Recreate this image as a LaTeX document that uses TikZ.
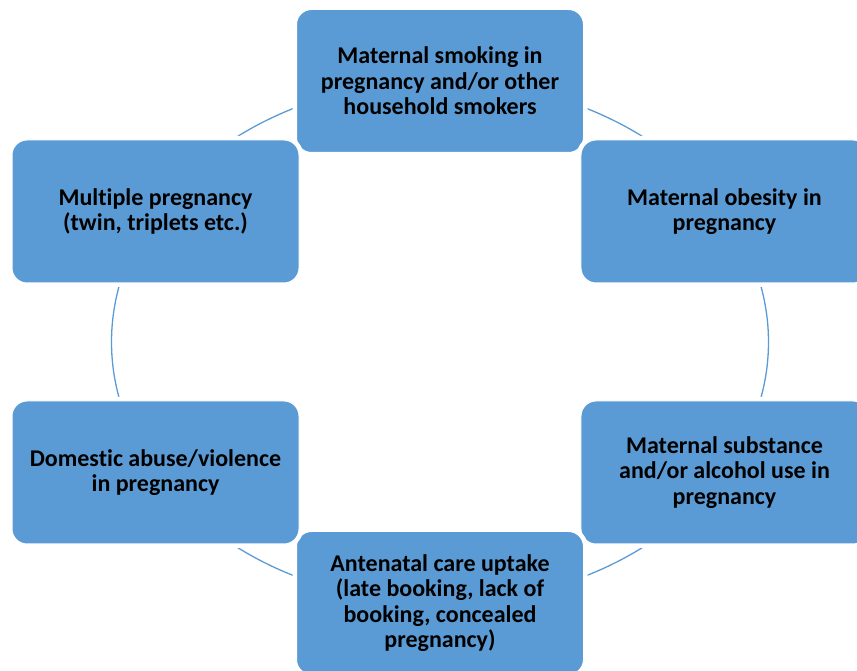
\documentclass[tikz,border=0pt]{standalone}
\usepackage{fontspec}
\setmainfont{Carlito}[Ligatures=NoCommon]
\usetikzlibrary{calc}
\definecolor{boxblue}{HTML}{5B9BD5}
\tikzset{
  factor/.style={rectangle, rounded corners=15pt, fill=boxblue, draw=white, line width=1pt,
    preaction={draw=white, line width=8pt},
    minimum width=287pt, minimum height=143pt, inner sep=0pt, align=center,
    font=\fontsize{24}{25.5}\selectfont\bfseries, text=black},
  link/.style={draw=boxblue, line width=1.3pt}
}
\begin{document}
\begin{tikzpicture}[x=1pt,y=1pt]
\useasboundingbox (0,0) rectangle (857,671);
\clip (0,0) rectangle (857,671);
\coordinate (c) at (440,329);
\coordinate (p1) at ($(c)+(90:328.5 and 261)$);
\coordinate (p2) at ($(c)+(30:328.5 and 261)$);
\coordinate (p3) at ($(c)+(-30:328.5 and 261)$);
\coordinate (p4) at ($(c)+(-90:328.5 and 261)$);
\coordinate (p5) at ($(c)+(-150:328.5 and 261)$);
\coordinate (p6) at ($(c)+(150:328.5 and 261)$);
\draw[link] (p1) arc[start angle=90, end angle=30, x radius=328.5, y radius=261];
\draw[link] (p2) arc[start angle=30, end angle=-30, x radius=328.5, y radius=261];
\draw[link] (p3) arc[start angle=-30, end angle=-90, x radius=328.5, y radius=261];
\draw[link] (p4) arc[start angle=-90, end angle=-150, x radius=328.5, y radius=261];
\draw[link] (p5) arc[start angle=-150, end angle=-210, x radius=328.5, y radius=261];
\draw[link] (p6) arc[start angle=150, end angle=90, x radius=328.5, y radius=261];
\node[factor] (smoking) at (p1) {Maternal smoking in\\pregnancy and/or other\\household smokers};
\node[factor] (obesity) at (p2) {Maternal obesity in\\pregnancy};
\node[factor] (substance) at (p3) {Maternal substance\\and/or alcohol use in\\pregnancy};
\node[factor] (antenatal) at (p4) {Antenatal care uptake\\(late booking, lack of\\booking, concealed\\pregnancy)};
\node[factor] (domestic) at (p5) {Domestic abuse/violence\\in pregnancy};
\node[factor] (multiple) at (p6) {Multiple pregnancy\\(twin, triplets etc.)};
\end{tikzpicture}
\end{document}
